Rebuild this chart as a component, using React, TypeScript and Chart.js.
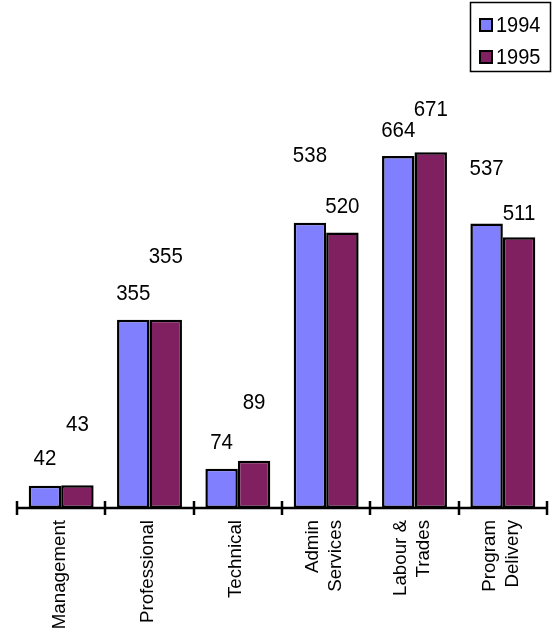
import React, { useEffect, useRef } from "react";
import { Chart, registerables } from "chart.js";

Chart.register(...registerables);

const categories: (string | string[])[] = [
  "Management",
  "Professional",
  "Technical",
  ["Admin", "Services"],
  ["Labour &", "Trades"],
  ["Program", "Delivery"],
];
const series1994 = [42, 355, 74, 538, 664, 537];
const series1995 = [43, 355, 89, 520, 671, 511];
const seriesNames = ["1994", "1995"];

// distance (px) from bar top to label centre, per series (label placement style)
const labelLift1994 = [27, 26, 26, 67, 25, 55];
const labelLift1995 = [61, 63, 58, 26, 43, 24];

const FONT = "'Liberation Sans', Arial, sans-serif";
const COLORS = ["#8080FF", "#802060"];
const STRETCH = 1.12; // the reference text is drawn slightly taller than wide

function stretchedText(ctx: any, text: string, x: number, y: number, sy: number) {
  ctx.save();
  ctx.translate(x, y);
  ctx.scale(1, sy);
  ctx.fillText(text, 0, 0);
  ctx.restore();
}

const axisPlugin = {
  id: "customAxis",
  afterDatasetsDraw(chart: any) {
    const { ctx, chartArea } = chart;
    const { left, right, bottom } = chartArea;
    const xScale = chart.scales.x;
    const n = categories.length;
    ctx.save();
    ctx.strokeStyle = "#000";
    ctx.lineWidth = 2.5;
    ctx.beginPath();
    ctx.moveTo(left, bottom);
    ctx.lineTo(right, bottom);
    for (let i = 0; i <= n; i++) {
      const x = Math.round(left + (i * (right - left)) / n);
      ctx.moveTo(x, bottom - 7);
      ctx.lineTo(x, bottom + 7);
    }
    ctx.stroke();

    // category labels, rotated, read bottom-to-top
    ctx.fillStyle = "#000";
    ctx.font = `18px ${FONT}`;
    ctx.textAlign = "right";
    ctx.textBaseline = "middle";
    const labels = xScale.getLabels();
    labels.forEach((lab: any, i: number) => {
      const lines = Array.isArray(lab) ? lab : [lab];
      const cx = xScale.getPixelForTick(i) - 1.5;
      lines.forEach((line: string, li: number) => {
        const lx = cx + (li - (lines.length - 1) / 2) * 23;
        ctx.save();
        ctx.translate(lx, bottom + 12);
        ctx.scale(1, 1.04);
        ctx.rotate(-Math.PI / 2);
        ctx.fillText(line, 0, 0);
        ctx.restore();
      });
    });

    // data labels
    ctx.font = `20.5px ${FONT}`;
    ctx.textAlign = "center";
    ctx.textBaseline = "middle";
    const lifts = [labelLift1994, labelLift1995];
    chart.data.datasets.forEach((ds: any, di: number) => {
      const meta = chart.getDatasetMeta(di);
      meta.data.forEach((bar: any, i: number) => {
        stretchedText(ctx, String(ds.data[i]), bar.x, bar.y - lifts[di][i], STRETCH);
      });
    });

    // legend
    ctx.lineWidth = 1.5;
    ctx.strokeRect(470.5, 2.5, 80, 69);
    ctx.font = `20px ${FONT}`;
    chart.data.datasets.forEach((ds: any, di: number) => {
      const y = 19 + di * 32;
      ctx.fillStyle = ds.backgroundColor;
      ctx.fillRect(480, y, 12, 12);
      ctx.lineWidth = 2;
      ctx.strokeRect(480, y, 12, 12);
      ctx.fillStyle = "#000";
      ctx.textAlign = "left";
      stretchedText(ctx, ds.label, 496, y + 6.5, STRETCH);
    });
    ctx.restore();
  },
};

export default function App() {
  const ref = useRef<HTMLCanvasElement>(null);
  useEffect(() => {
    if (!ref.current) return;
    const chart = new Chart(ref.current, {
      type: "bar",
      data: {
        labels: categories,
        datasets: [
          {
            label: seriesNames[0],
            data: series1994,
            backgroundColor: COLORS[0],
            borderColor: "#000",
            borderWidth: 2.5,
            borderSkipped: false,
          },
          {
            label: seriesNames[1],
            data: series1995,
            backgroundColor: COLORS[1],
            borderColor: "#000",
            borderWidth: 2.5,
            borderSkipped: false,
          },
        ],
      },
      options: {
        responsive: false,
        animation: false,
        datasets: {
          bar: { categoryPercentage: 0.735, barPercentage: 1 },
        },
        layout: { padding: { left: 17, right: 8, top: 137, bottom: 0 } },
        plugins: { legend: { display: false }, tooltip: { enabled: false } },
        scales: {
          x: {
            type: "category",
            offset: true,
            grid: { display: false, drawTicks: false },
            border: { display: false },
            ticks: { display: false, autoSkip: false },
            afterFit: (scale: any) => {
              scale.height = 123;
            },
          },
          y: {
            display: false,
            min: 0,
            max: 700,
          },
        },
      },
      plugins: [axisPlugin],
    });
    return () => chart.destroy();
  }, []);
  return (
    <div style={{ position: "absolute", left: 0, top: 0, width: 555, height: 631, background: "#fff" }}>
      <canvas ref={ref} width={555} height={631} style={{ display: "block" }} />
    </div>
  );
}
